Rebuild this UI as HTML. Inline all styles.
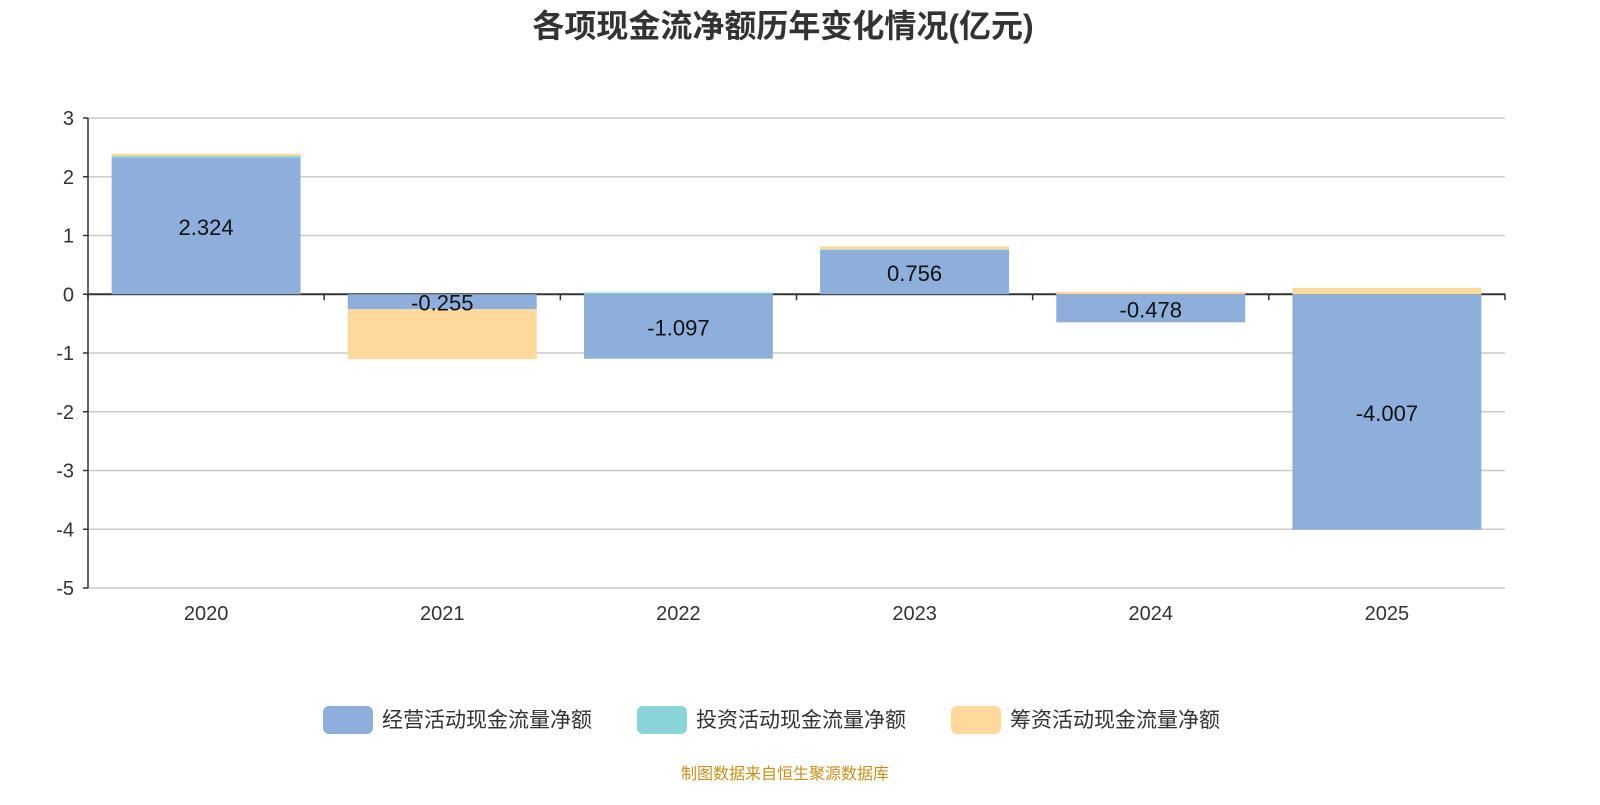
<!DOCTYPE html>
<html><head><meta charset="utf-8">
<style>
body{margin:0;background:#fff;font-family:"Liberation Sans","Noto Sans CJK SC",sans-serif;}
svg text{font-family:"Liberation Sans","Noto Sans CJK SC",sans-serif;}
</style></head>
<body>
<svg id="chart" width="1600" height="800" xmlns="http://www.w3.org/2000/svg">
<text x="783" y="37" text-anchor="middle" font-size="32" font-weight="bold" fill="#333">各项现金流净额历年变化情况(亿元)</text>
<g id="grid"></g><g id="bars"></g><g id="axes"></g><g id="labels"></g>
<g id="legend"></g>
<text x="785" y="779" text-anchor="middle" font-size="16" fill="#c8901c">制图数据来自恒生聚源数据库</text>
</svg>
<script>
const categories=["2020","2021","2022","2023","2024","2025"];
const operating=[2.324,-0.255,-1.097,0.756,-0.478,-4.007];
const investing=[0.03,0,0.03,0.01,0,0];
const financing=[0.04,-0.85,0,0.05,0.04,0.11];
const yTicks=[3,2,1,0,-1,-2,-3,-4,-5];
const seriesNames=["经营活动现金流量净额","投资活动现金流量净额","筹资活动现金流量净额"];
const colors=["#8eaedb","#88d4d8","#fed99b"];
const NS="http://www.w3.org/2000/svg";
const X0=88,X1=1505,Y0=118,Y1=588,ymax=3,ymin=-5;
const y=v=>Y0+(ymax-v)/(ymax-ymin)*(Y1-Y0);
const bw=(X1-X0)/categories.length;
const xc=i=>X0+bw*(i+0.5);
function mk(tag,attrs,parent){const e=document.createElementNS(NS,tag);for(const k in attrs)e.setAttribute(k,attrs[k]);document.getElementById(parent).appendChild(e);return e;}
yTicks.forEach(t=>{
 const l=mk('line',{x1:X0,x2:X1,y1:y(t),y2:y(t),stroke:t===0?'#333':'#ccc','stroke-width':t===0?2:1.5},'grid');
 
 
 const tx=mk('text',{x:X0-14,y:y(t)+7,'text-anchor':'end','font-size':20,fill:'#333'},'axes');
 tx.textContent=t;
 
 
 mk('line',{x1:X0-5,x2:X0,y1:y(t),y2:y(t),stroke:'#333','stroke-width':1.5},'axes');
});
mk('line',{x1:X0,x2:X0,y1:Y0,y2:Y1,stroke:'#333','stroke-width':1.5},'axes');
for(let i=0;i<=categories.length;i++)mk('line',{x1:X0+bw*i,x2:X0+bw*i,y1:y(0),y2:y(0)+6,stroke:'#333','stroke-width':1.5},'axes');
const series=[operating,investing,financing];
categories.forEach((c,i)=>{
 let pos=0,neg=0;
 series.forEach((s,k)=>{
  const v=s[i]; if(!v)return;
  let a,b; if(v>0){a=pos;b=pos+v;pos=b;}else{a=neg;b=neg+v;neg=b;}
  const r=mk('rect',{x:xc(i)-bw*0.4,width:bw*0.8,y:Math.min(y(a),y(b)),height:Math.abs(y(a)-y(b)),fill:colors[k]},'bars');
  
  
 });
 const v=operating[i];
 const t=mk('text',{x:xc(i),y:(y(0)+y(v))/2+9,'text-anchor':'middle','font-size':22,fill:'#111'},'labels');
 t.textContent=v.toFixed(3);
 
 
 const xl=mk('text',{x:xc(i),y:620,'text-anchor':'middle','font-size':20,fill:'#333'},'axes');
 xl.textContent=c;
 
 
});
const lx=[323,637,951];
seriesNames.forEach((n,k)=>{
 const r=mk('rect',{x:lx[k],y:706,width:50,height:28,rx:6,fill:colors[k]},'legend');
 
 
 const t=mk('text',{x:lx[k]+59,y:727,'font-size':21,fill:'#333'},'legend');
 t.textContent=n;
 
 
});
</script>
</body></html>
